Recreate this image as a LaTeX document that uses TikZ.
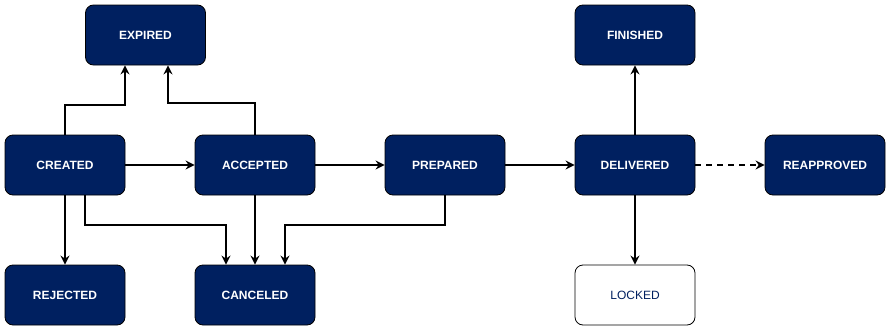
\documentclass[tikz,border=0pt]{standalone}
\usepackage{fontspec}
\setmainfont{Liberation Sans}
\usetikzlibrary{arrows.meta}
\definecolor{navy}{RGB}{0,32,96}
\begin{document}
\begin{tikzpicture}[x=1pt,y=-1pt,
  state/.style={draw=black,line width=0.8pt,fill=navy,rounded corners=8pt,minimum width=120pt,minimum height=60pt,inner sep=0pt,text=white,font=\fontsize{12pt}{14pt}\selectfont\bfseries},
  lightstate/.style={state,fill=white,text=navy,font=\fontsize{12pt}{14pt}\selectfont},
  conn/.style={line width=1.4pt,-{Stealth[length=9pt,width=9pt,inset=3pt]}}]
\useasboundingbox (0,0) rectangle (891,332);
\node[state] (expired) at (145.5,35) {EXPIRED};
\node[state] (finished) at (635,35) {FINISHED};
\node[state] (created) at (65,165) {CREATED};
\node[state] (accepted) at (255,165) {ACCEPTED};
\node[state] (prepared) at (445,165) {PREPARED};
\node[state] (delivered) at (635,165) {DELIVERED};
\node[state] (reapproved) at (825,165) {REAPPROVED};
\node[state] (rejected) at (65,295) {REJECTED};
\node[state] (canceled) at (255,295) {CANCELED};
\node[lightstate] (locked) at (635,295) {LOCKED};
\draw[conn] (created.north) -- (65,105) -- (125,105) -- (expired.south -| 125,0);
\draw[conn] (accepted.north) -- (255,103) -- (168,103) -- (expired.south -| 168,0);
\draw[conn] (created) -- (accepted);
\draw[conn] (accepted) -- (prepared);
\draw[conn] (prepared) -- (delivered);
\draw[conn,dashed,dash pattern=on 6pt off 5pt] (delivered) -- (reapproved);
\draw[conn] (delivered) -- (finished);
\draw[conn] (delivered) -- (locked);
\draw[conn] (created) -- (rejected);
\draw[conn] (accepted) -- (canceled);
\draw[conn] (created.south -| 85,0) -- (85,225) -- (226,225) -- (canceled.north -| 226,0);
\draw[conn] (prepared.south) -- (445,225) -- (285,225) -- (canceled.north -| 285,0);
\end{tikzpicture}
\end{document}
